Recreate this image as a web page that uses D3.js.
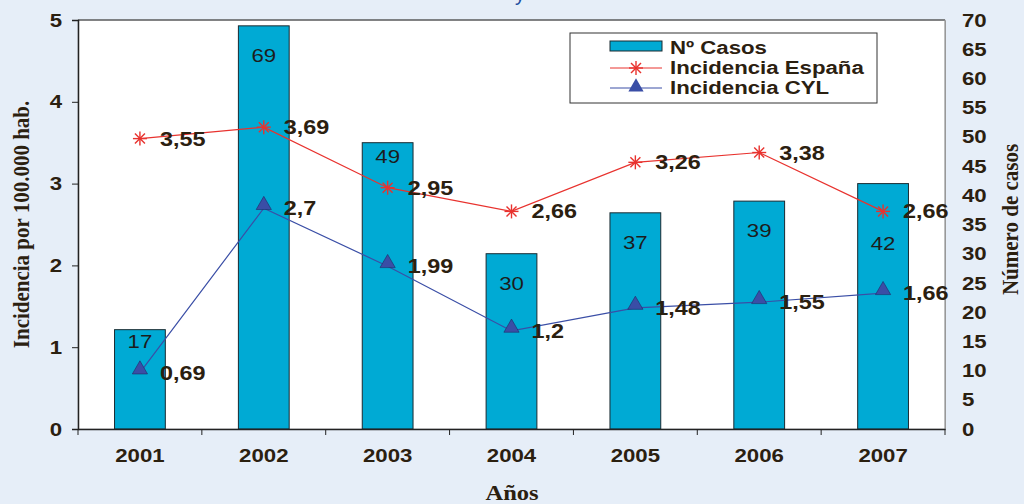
<!DOCTYPE html>
<meta charset="utf-8">
<html>
<script src="https://cdnjs.cloudflare.com/ajax/libs/d3/7.8.5/d3.min.js"></script>
<style>
  body { margin: 0; background: #e6eef8; }
</style>
<body>
<div id="chart"></div>
<script>
// data
var years = ["2001", "2002", "2003", "2004", "2005", "2006", "2007"];
var casos = [17, 69, 49, 30, 37, 39, 42];
var incEspana = [3.55, 3.69, 2.95, 2.66, 3.26, 3.38, 2.66];
var incCYL = [0.69, 2.7, 1.99, 1.2, 1.48, 1.55, 1.66];
var leftTicks = [0, 1, 2, 3, 4, 5];
var rightTicks = [0, 5, 10, 15, 20, 25, 30, 35, 40, 45, 50, 55, 60, 65, 70];

var width = 1024,
    height = 504,
    margin = {top: 20, right: 79, bottom: 75, left: 78};

var sx = 1.17; // the original is a bit stretched sideways
var ink = "#2b2010";
var bodyFont = "Arial, 'Liberation Sans', sans-serif";
var serif = "'Liberation Serif', 'Times New Roman', serif";

var svg = d3.select("#chart")
  .append("svg")
    .attr("width", width)
    .attr("height", height)
    .style("font-family", bodyFont);

var pw = width - margin.left - margin.right,
    ph = height - margin.top - margin.bottom;

var g = svg.append("g")
    .attr("transform", "translate(" + margin.left + "," + margin.top + ")");

var x = d3.scaleBand().domain(years).range([0, pw]).paddingInner(0.59).paddingOuter(0.295);
var yL = d3.scaleLinear().domain([0, 5]).range([ph, 0]);
var yR = d3.scaleLinear().domain([0, 70]).range([ph, 0]);
function cx(i) { return x(years[i]) + x.bandwidth() / 2; }

// stretched text helper
function label(parent, tx, ty, txt) {
  return parent.append("text")
    .attr("transform", "translate(" + tx + "," + ty + ") scale(" + sx + ",1)")
    .text(txt);
}

// plot area
g.append("rect")
  .attr("width", pw).attr("height", ph)
  .attr("fill", "white")
  .attr("stroke", "#c8ccd0");

// bars
g.selectAll("rect.bar")
  .data(casos)
  .enter().append("rect")
    .attr("class", "bar")
    .attr("x", function(d, i) { return x(years[i]); })
    .attr("y", function(d) { return yR(d); })
    .attr("width", x.bandwidth())
    .attr("height", function(d) { return ph - yR(d); })
    .attr("fill", "#00aad4")
    .attr("stroke", "#1a2a30")
    .attr("stroke-width", 1);

// bar labels: near the top of the bar, moved off the line markers
casos.forEach(function(d, i) {
  var top = yR(d);
  var ly = top + 29;
  var marks = [yL(incEspana[i]), yL(incCYL[i])];
  marks.forEach(function(m) {
    if (Math.abs(ly - m) < 20) {
      ly = (m - 32 >= top + 10) ? m - 32 : m + 32;
    }
  });
  label(g, cx(i), ly + 7, d)
    .attr("text-anchor", "middle")
    .attr("font-size", 19)
    .attr("fill", "#1c1c1c");
});

// axes frame
g.append("line").attr("x1", 0).attr("x2", pw).attr("y1", 0).attr("y2", 0).attr("stroke", "#222");
g.append("line").attr("x1", pw).attr("x2", pw).attr("y1", 0).attr("y2", ph).attr("stroke", "#999");

var axL = g.append("g").call(d3.axisLeft(yL).tickValues(leftTicks).tickFormat(d3.format("d")).tickSize(6).tickPadding(10));
var axR = g.append("g").attr("transform", "translate(" + pw + ",0)")
  .call(d3.axisRight(yR).tickValues(rightTicks).tickSize(0).tickPadding(17));
var axB = g.append("g").attr("transform", "translate(0," + ph + ")")
  .call(d3.axisBottom(x).tickSize(0).tickPadding(20));

// ticks on category boundaries
var step = x.step();
g.selectAll("line.xt")
  .data(d3.range(years.length + 1))
  .enter().append("line")
    .attr("class", "xt")
    .attr("x1", function(i) { return i * step; })
    .attr("x2", function(i) { return i * step; })
    .attr("y1", ph).attr("y2", ph + 6)
    .attr("stroke", "#222");

[axL, axR, axB].forEach(function(a) {
  a.selectAll("text")
    .attr("font-size", 19).attr("font-weight", "bold").attr("fill", ink)
    .attr("font-family", bodyFont)
    .attr("x", function() { return +d3.select(this).attr("x") / sx; })
    .attr("transform", "scale(" + sx + ",1)");
  a.select(".domain").attr("stroke", "#222").attr("stroke-width", 1.5);
  a.selectAll(".tick line").attr("stroke", "#222");
});
axR.select(".domain").attr("stroke", "#999").attr("stroke-width", 1);

// lines
var lineL = d3.line()
  .x(function(d, i) { return cx(i); })
  .y(function(d) { return yL(d); });

g.append("path").datum(incEspana).attr("d", lineL)
  .attr("fill", "none").attr("stroke", "#e8322e").attr("stroke-width", 1.2);
g.append("path").datum(incCYL).attr("d", lineL)
  .attr("fill", "none").attr("stroke", "#3a4ea6").attr("stroke-width", 1.2);

// star markers
var starArms = [[-7, 0, 7, 0], [0, -7, 0, 7], [-5, -5, 5, 5], [-5, 5, 5, -5]];
function drawStar(sel) {
  starArms.forEach(function(l) {
    sel.append("line").attr("x1", l[0]).attr("y1", l[1]).attr("x2", l[2]).attr("y2", l[3])
      .attr("stroke", "#e8322e").attr("stroke-width", 1.4);
  });
}
g.selectAll("g.star")
  .data(incEspana)
  .enter().append("g")
    .attr("transform", function(d, i) { return "translate(" + cx(i) + "," + yL(d) + ")"; })
    .each(function() { drawStar(d3.select(this)); });

var tri = d3.symbol().type(d3.symbolTriangle).size(100);
g.selectAll("path.tri")
  .data(incCYL)
  .enter().append("path")
    .attr("class", "tri")
    .attr("d", tri)
    .attr("transform", function(d, i) { return "translate(" + cx(i) + "," + (yL(d) - 3) + ")"; })
    .attr("fill", "#3a4ea6")
    .attr("stroke", "#1e2a66")
    .attr("stroke-width", 0.6);

// value labels
function fmt(v) { return String(v).replace(".", ","); }
[incEspana, incCYL].forEach(function(series) {
  series.forEach(function(d, i) {
    label(g, cx(i) + 20, yL(d) + 7, fmt(d))
      .attr("font-size", 20)
      .attr("font-weight", "bold")
      .attr("fill", ink);
  });
});

// legend
var lg = svg.append("g").attr("transform", "translate(570,33)");
lg.append("rect").attr("width", 307).attr("height", 70).attr("fill", "white").attr("stroke", "#333");
lg.append("rect").attr("x", 40).attr("y", 8).attr("width", 52).attr("height", 10)
  .attr("fill", "#00aad4").attr("stroke", "#1a2a30");
lg.append("line").attr("x1", 40).attr("x2", 92).attr("y1", 35).attr("y2", 35).attr("stroke", "#e8322e");
drawStar(lg.append("g").attr("transform", "translate(66,35)"));
lg.append("line").attr("x1", 40).attr("x2", 92).attr("y1", 55).attr("y2", 55).attr("stroke", "#3a4ea6");
lg.append("path").attr("d", tri)
  .attr("transform", "translate(66,54)").attr("fill", "#3a4ea6");
var legTexts = ["Nº Casos", "Incidencia España", "Incidencia CYL"];
legTexts.forEach(function(t, i) {
  label(lg, 100, 21 + i * 20, t)
    .attr("font-size", 19)
    .attr("font-weight", "bold")
    .attr("fill", ink);
});

// axis titles
svg.append("text")
  .attr("transform", "translate(29," + (margin.top + ph / 2) + ") rotate(-90) scale(1,1.1)")
  .attr("text-anchor", "middle")
  .attr("font-family", serif)
  .attr("font-weight", "bold").attr("font-size", 21).attr("fill", ink)
  .text("Incidencia por 100.000 hab.");

svg.append("text")
  .attr("transform", "translate(1018," + (margin.top + ph / 2 - 5) + ") rotate(-90) scale(1,1.1)")
  .attr("text-anchor", "middle")
  .attr("font-family", serif)
  .attr("font-weight", "bold").attr("font-size", 21).attr("fill", ink)
  .text("Número de casos");

label(svg, 512, 500, "Años")
  .attr("text-anchor", "middle")
  .attr("font-family", serif)
  .attr("font-weight", "bold").attr("font-size", 21).attr("fill", ink);

// cut-off title above the chart: only a descender shows
svg.append("text")
  .attr("x", 520).attr("y", 1)
  .attr("text-anchor", "middle")
  .attr("font-size", 20).attr("fill", "#1f4fa0")
  .text("y");
</script>
</body>
</html>
